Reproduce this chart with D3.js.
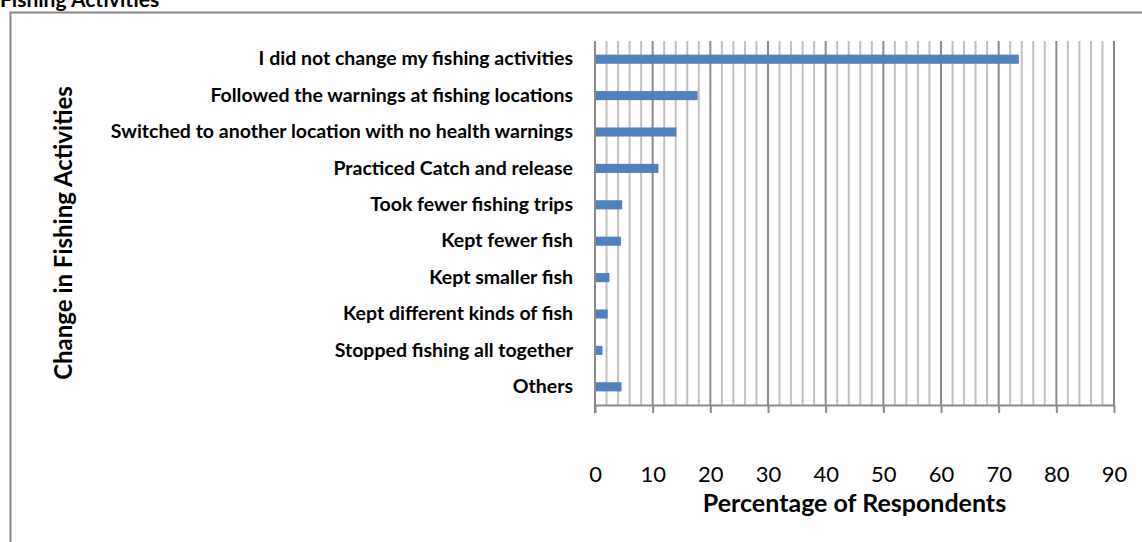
<!DOCTYPE html>
<html>
<head>
<meta charset="utf-8">
<script src="https://cdn.jsdelivr.net/npm/d3@7"></script>
<style>
  body { margin: 0; background: #fff; }
  svg { display: block; font-family: Lato, "Open Sans", sans-serif; }
</style>
</head>
<body>
<div id="chart"></div>
<script>
const width = 1142;
const height = 542;

const categories = [
  "I did not change my fishing activities",
  "Followed the warnings at fishing locations",
  "Switched to another location with no health warnings",
  "Practiced Catch and release",
  "Took fewer fishing trips",
  "Kept fewer fish",
  "Kept smaller fish",
  "Kept different kinds of fish",
  "Stopped fishing all together",
  "Others",
];
const percents = [73.5, 17.8, 14.1, 11.0, 4.7, 4.5, 2.5, 2.2, 1.3, 4.6];
const xTicks = [0, 10, 20, 30, 40, 50, 60, 70, 80, 90];
const gridValues = d3.range(0, 91, 2);

const plot = { left: 595, right: 1114, top: 41, bottom: 405 };
const font = "Lato, 'Open Sans', sans-serif";

const svg = d3.select("#chart")
  .append("svg")
  .attr("width", width)
  .attr("height", height);

// chart frame (partly cut off like the source)
svg.append("path")
  .attr("d", `M10.5,${height + 5} V12.5 H${width + 5}`)
  .attr("fill", "none")
  .attr("stroke", "#888")
  .attr("stroke-width", 2);

// title sticking out at the top
svg.append("text")
  .attr("x", 0)
  .attr("y", 7)
  .attr("font-size", 21)
  .attr("font-weight", "bold")
  .attr("fill", "#000")
  .text("Fishing Activities");

const x = d3.scaleLinear().domain([0, 90]).range([plot.left, plot.right]);
const y = d3.scaleBand().domain(categories).range([plot.top, plot.bottom]).paddingInner(0.75).paddingOuter(0.375);

// gridlines
svg.append("g")
  .selectAll("line")
  .data(gridValues.filter((d) => d > 0))
  .join("line")
  .attr("x1", (d) => x(d))
  .attr("x2", (d) => x(d))
  .attr("y1", plot.top)
  .attr("y2", plot.bottom)
  .attr("stroke", (d) => (d % 10 === 0 ? "#8a8a8a" : "#c0c0c0"))
  .attr("stroke-width", 2);

// bars
svg.append("g")
  .selectAll("rect")
  .data(categories)
  .join("rect")
  .attr("x", x(0))
  .attr("y", (d) => y(d))
  .attr("width", (d, i) => x(percents[i]) - x(0))
  .attr("height", y.bandwidth())
  .attr("fill", "#4f81bd");

// x axis
const xAxis = svg.append("g")
  .attr("transform", `translate(0,${plot.bottom})`)
  .call(d3.axisBottom(x).tickValues(xTicks).tickSize(8).tickPadding(53).tickSizeOuter(0));
xAxis.select(".domain").attr("stroke", "#8a8a8a").attr("stroke-width", 2);
xAxis.selectAll(".tick line").attr("stroke", "#8a8a8a").attr("stroke-width", 2);
xAxis.selectAll(".tick text")
  .attr("font-size", 22)
  .attr("font-weight", 400)
  .attr("fill", "#000")
  .attr("font-family", font);

// y axis
const yAxis = svg.append("g")
  .attr("transform", `translate(${plot.left},0)`)
  .call(d3.axisLeft(y).tickSize(0).tickPadding(22));
yAxis.select(".domain").attr("stroke", "#8a8a8a").attr("stroke-width", 2)
  .attr("d", `M0,${plot.top}V${plot.bottom + 8}`);
yAxis.selectAll(".tick text")
  .attr("font-size", 19.5)
  .attr("font-weight", "bold")
  .attr("fill", "#000")
  .attr("font-family", font);

// axis titles
svg.append("text")
  .attr("x", (plot.left + plot.right) / 2)
  .attr("y", 512)
  .attr("text-anchor", "middle")
  .attr("font-size", 25)
  .attr("font-weight", "bold")
  .text("Percentage of Respondents");

svg.append("text")
  .attr("transform", `translate(72,${(plot.top + plot.bottom) / 2 + 10}) rotate(-90)`)
  .attr("text-anchor", "middle")
  .attr("font-size", 24)
  .attr("font-weight", "bold")
  .text("Change in Fishing Activities");
</script>
</body>
</html>
